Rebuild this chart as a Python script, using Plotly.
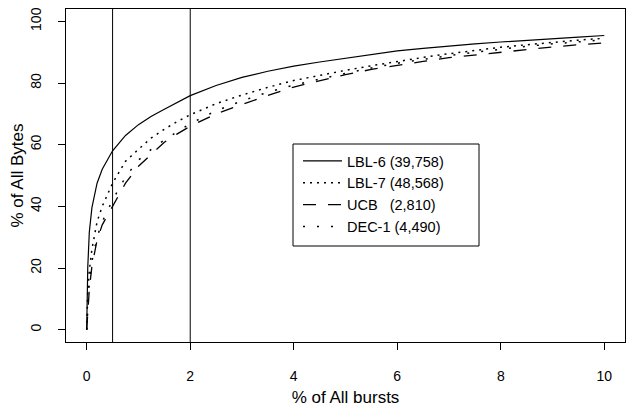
import plotly.graph_objects as go

# shared x grid (% of all bursts)
x_pct = [0, 0.02, 0.05, 0.1, 0.2, 0.3, 0.5, 0.75, 1, 1.25, 1.5, 1.75, 2, 2.5, 3,
         3.5, 4, 4.5, 5, 5.5, 6, 6.5, 7, 7.5, 8, 8.5, 9, 9.5, 10]

lbl6 = [0, 20, 31.5, 39.5, 47.5, 52, 58, 63, 66.5, 69.2, 71.5, 73.8, 75.9, 79.2, 81.8,
        83.8, 85.5, 86.8, 88, 89.3, 90.4, 91.2, 92, 92.7, 93.3, 93.9, 94.4, 94.9, 95.4]
lbl7 = [0, 12, 19, 26, 35, 40, 47.5, 54.6, 58.5, 62.2, 65, 67.5, 69.7, 73.3, 76.1,
        78.6, 80.8, 82.5, 84.1, 85.6, 87, 88.3, 89.5, 90.6, 91.6, 92.4, 93.2, 93.9, 94.5]
ucb = [0, 7, 13, 20.5, 29, 34, 40, 47.5, 53, 57, 60.8, 63.5, 66, 70, 73,
       76, 78.7, 80.7, 82.7, 84.4, 85.8, 87, 88.2, 89.1, 90.1, 91, 91.7, 92.4, 93]
dec1 = [0, 8, 15, 22, 30, 35, 42, 49.5, 55, 58.5, 61.5, 64.2, 66.8, 71, 74.2,
        77, 79.3, 81.3, 83.2, 84.9, 86.4, 87.7, 88.9, 90, 91, 91.9, 92.7, 93.4, 94]

names = ["LBL-6 (39,758)", "LBL-7 (48,568)", "UCB\u00a0\u00a0 (2,810)", "DEC-1 (4,490)"]
vlines = [0.5, 2]
x_ticks = [0, 2, 4, 6, 8, 10]
y_ticks = [0, 20, 40, 60, 80, 100]

series = [lbl6, lbl7, ucb, dec1]
dashes = ["solid", "2px,5px", "13px,12px", "2px,12px"]
widths = [1.2, 1.5, 1.3, 1.5]

fig = go.Figure()
for name, ys, d, w in zip(names, series, dashes, widths):
    fig.add_trace(go.Scatter(x=x_pct, y=ys, mode="lines", name=name,
                             line=dict(color="black", dash=d, width=w)))

for v in vlines:
    fig.add_shape(type="line", x0=v, x1=v, y0=0, y1=1, xref="x", yref="paper",
                  line=dict(color="black", width=1))

# legend frame
fig.add_shape(type="rect", xref="paper", yref="paper",
              x0=(293 - 66) / 559, x1=(479 - 66) / 559,
              y0=(342 - 246) / 333, y1=(342 - 144) / 333,
              line=dict(color="black", width=1), fillcolor="rgba(0,0,0,0)")

FAM = "Liberation Sans, Arial, sans-serif"
font = dict(family=FAM, size=14, color="black")

fig.update_layout(
    width=626, height=407,
    margin=dict(l=66, r=1, t=9, b=65),
    paper_bgcolor="white", plot_bgcolor="white",
    font=font,
    showlegend=True,
    legend=dict(x=(298 - 66) / 559, y=(342 - 145) / 333, xanchor="left", yanchor="top",
                bgcolor="rgba(0,0,0,0)", borderwidth=0, itemwidth=39,
                font=dict(size=14.5)),
    xaxis=dict(range=[-0.4, 10.4], tickvals=x_ticks, ticks="outside", ticklen=7,
               tickcolor="black", showline=True, linecolor="black", mirror=True,
               showgrid=False, zeroline=False, ticklabelstandoff=14,
               title=dict(text="% of All bursts", standoff=8)),
    yaxis=dict(range=[-4, 104], tickvals=y_ticks, ticks="outside", ticklen=7,
               tickcolor="black", showline=True, linecolor="black", mirror=True,
               showgrid=False, zeroline=False, tickangle=-90, ticklabelstandoff=11,
               title=dict(text="% of All Bytes", standoff=0)),
)

fig.write_html("out.html")
